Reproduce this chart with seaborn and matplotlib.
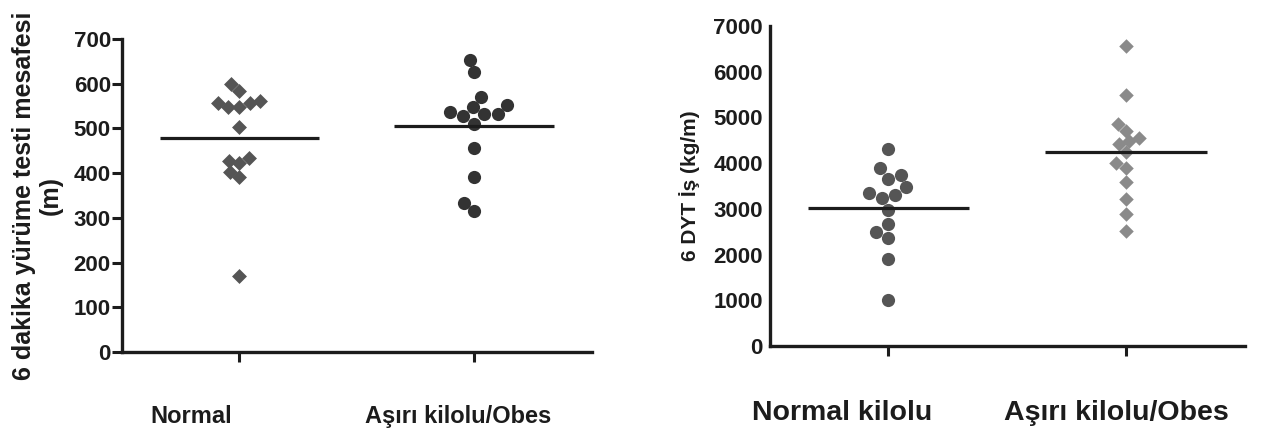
import matplotlib
matplotlib.use("Agg")
import matplotlib.pyplot as plt
import matplotlib.transforms as mtransforms
import numpy as np
import pandas as pd
import seaborn as sns

# values
left_cats = ["Normal", "Aşırı kilolu/Obes"]
left_normal = [583, 599, 557, 548, 548, 557, 562, 503, 427, 403, 392, 422, 434, 170]
left_obes = [653, 625, 571, 548, 531, 527, 510, 531, 536, 553, 456, 392, 315, 334]

right_cats = ["Normal kilolu", "Aşırı kilolu/Obes"]
right_normal = [4314, 3889, 3742, 3654, 3471, 3339, 3229, 3302, 2978, 2663, 2494, 2362, 1908, 1013]
right_obes = [6566, 5496, 4865, 4703, 4483, 4541, 4409, 4241, 4000, 3889, 3581, 3214, 2884, 2516]

left_yticks = [0, 100, 200, 300, 400, 500, 600, 700]
right_yticks = [0, 1000, 2000, 3000, 4000, 5000, 6000, 7000]

sns.set_style("white")
plt.rcParams["font.family"] = ["Liberation Sans", "DejaVu Sans"]
plt.rcParams["font.weight"] = "bold"
ink = "#1c1c1c"

fig = plt.figure(figsize=(12.7, 4.32), dpi=100)
ax1 = fig.add_axes([0.096, 0.185, 0.370, 0.725])
ax2 = fig.add_axes([0.606, 0.199, 0.374, 0.741])


def group_plot(ax, cats, groups, markers, colors, sizes):
    for cat, vals, mk, col, sz in zip(cats, groups, markers, colors, sizes):
        df = pd.DataFrame({"grp": cat, "val": vals})
        sns.swarmplot(data=df, x="grp", y="val", order=cats, marker=mk,
                      color=col, size=sz, linewidth=0, ax=ax)
    for i, vals in enumerate(groups):
        ax.hlines(np.mean(vals), i - 0.34, i + 0.34, color=ink, lw=2.3, zorder=3)
    ax.set_xlim(-0.5, 1.5)
    sns.despine(ax=ax)
    for s in ("left", "bottom"):
        ax.spines[s].set_linewidth(2.4)
        ax.spines[s].set_color(ink)
    ax.set_xlabel("")


def shift_xlabels(ax, shifts):
    # category labels sit a little left of their ticks in the original
    for lab, dx in zip(ax.get_xticklabels(), shifts):
        off = mtransforms.ScaledTranslation(dx / 100, 0, fig.dpi_scale_trans)
        lab.set_transform(lab.get_transform() + off)


# left panel
group_plot(ax1, left_cats, [left_normal, left_obes], ["D", "o"],
           ["#555555", "#333333"], [7.6, 9.5])
ax1.set_ylim(0, 700)
ax1.set_yticks(left_yticks)
ax1.tick_params(axis="y", length=7, width=2.2, color=ink, pad=1,
                labelsize=16, labelcolor=ink, left=True)
ax1.tick_params(axis="x", length=7, width=2.2, color=ink, pad=31,
                labelsize=17, labelcolor=ink, bottom=True)
ax1.set_ylabel("6 dakika yürüme testi mesafesi\n(m)", fontsize=18,
               fontweight="bold", color=ink, va="center", linespacing=1.1)
ax1.yaxis.set_label_coords(-0.18, 0.5)

# right panel
group_plot(ax2, right_cats, [right_normal, right_obes], ["o", "D"],
           ["#555555", "#8a8a8a"], [9.5, 7.4])
ax2.set_ylim(0, 7000)
ax2.set_yticks(right_yticks)
ax2.tick_params(axis="y", length=0, pad=5, labelsize=16, labelcolor=ink, left=True)
ax2.tick_params(axis="x", length=7, width=2.2, color=ink, pad=32,
                labelsize=20.5, labelcolor=ink, bottom=True)
ax2.set_ylabel("6 DYT İş (kg/m)", fontsize=15, fontweight="bold",
               color=ink, va="center")
ax2.yaxis.set_label_coords(-0.168, 0.5)

for ax in (ax1, ax2):
    for lab in ax.get_xticklabels() + ax.get_yticklabels():
        lab.set_fontweight("bold")

shift_xlabels(ax1, [-48, -16])
shift_xlabels(ax2, [-46, -9])

fig.savefig("out.png", dpi=100)
